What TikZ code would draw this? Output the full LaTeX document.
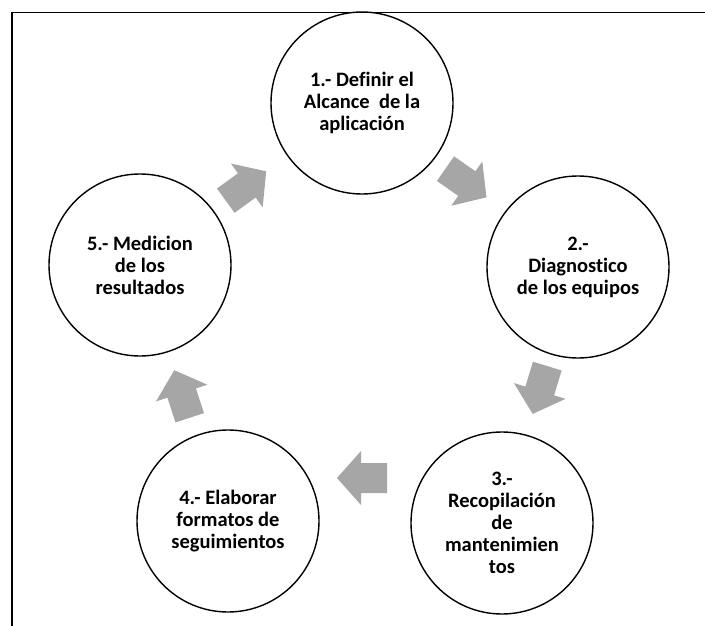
\documentclass[tikz,border=0pt]{standalone}
\usepackage{fontspec}
\setmainfont{Carlito}[Ligatures=NoCommon]
\definecolor{arrowgray}{HTML}{A6A6A6}
\tikzset{
  stage/.style={circle, draw=black, line width=1.4pt, minimum size=182pt,
    inner sep=0pt, align=center, font=\fontsize{20.5}{22}\selectfont\bfseries},
  frameline/.style={draw=black, line width=1.6pt},
  blockarrow/.pic={
    \fill[arrowgray] (-25,-15) -- (1,-15) -- (1,-27) -- (25,0) -- (1,27) -- (1,15) -- (-25,15) -- cycle;
  }
}
\begin{document}
\begin{tikzpicture}[x=1pt,y=-1pt]
  \useasboundingbox (0,0) rectangle (705,626);
  % frame: top and left edges
  \coordinate (frameTL) at (12,12.5);
  \coordinate (frameTR) at (705,12.5);
  \coordinate (frameBL) at (12,626);
  \draw[frameline] (frameTR) -- (frameTL) -- (frameBL);

  % the five stages of the cycle
  \node[stage] (c1) at (362,103) {1.- Definir el\\Alcance\ \ de la\\aplicación};
  \node[stage] (c2) at (578,267) {2.-\\Diagnostico\\de los equipos};
  \node[stage] (c3) at (502,523) {3.-\\Recopilación\\de\\mantenimien\\tos};
  \node[stage] (c4) at (228,521) {4.- Elaborar\\formatos de\\seguimientos};
  \node[stage] (c5) at (140,265) {5.- Medicion\\de los\\resultados};

  % block arrows between consecutive stages
  \pic[rotate=-35] at (466,183) {blockarrow};
  \pic[rotate=-107] at (540,390) {blockarrow};
  \pic[rotate=180] at (362,478) {blockarrow};
  \pic[rotate=108] at (182,394) {blockarrow};
  \pic[rotate=36] at (246,186) {blockarrow};
\end{tikzpicture}
\end{document}
